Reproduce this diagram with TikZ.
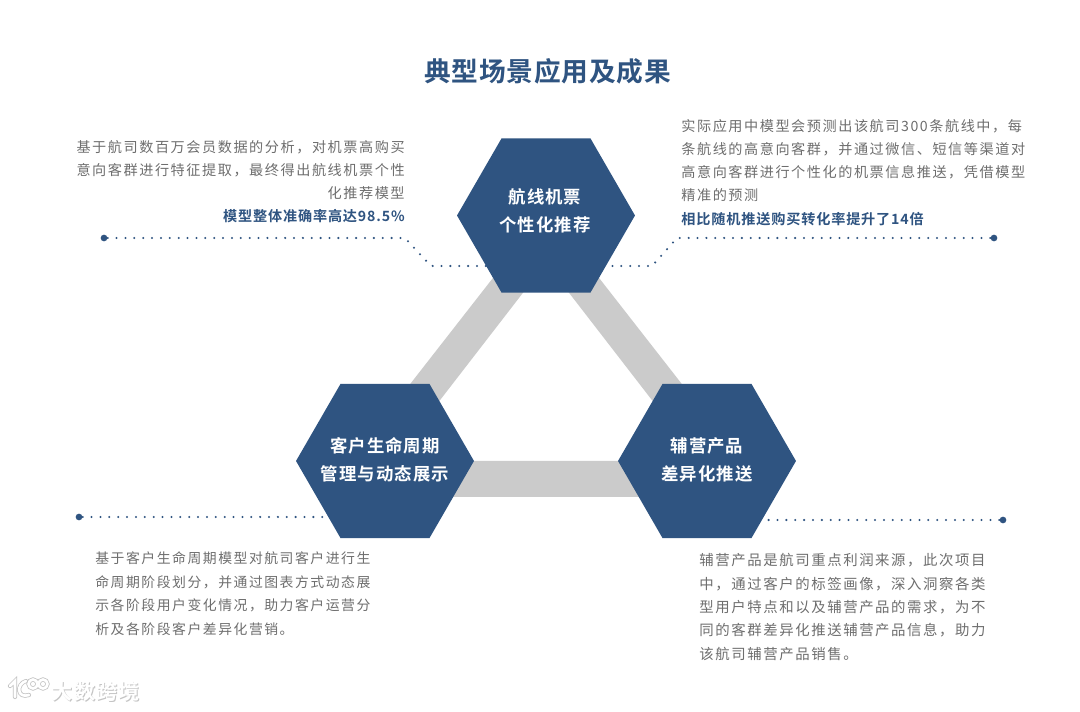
\documentclass[tikz,border=0pt]{standalone}
\usepackage{fontspec}
\usepackage{xcolor}
\usetikzlibrary{shapes.geometric, positioning}
\newfontfamily\cjkbody[LetterSpace=11]{Noto Sans CJK SC}
\newfontfamily\cjkbold[LetterSpace=6]{Noto Sans CJK SC Bold}
\newfontfamily\cjktitle[LetterSpace=3]{Noto Sans CJK SC Bold}
\definecolor{hexblue}{HTML}{2F5481}
\definecolor{bodygray}{HTML}{6E6E6E}
\definecolor{barGray}{HTML}{CBCBCB}
\definecolor{markgray}{HTML}{C4C4C4}
\tikzset{
    hexnode/.style={regular polygon, regular polygon sides=6, minimum size=3.56cm,
        inner sep=0pt, outer sep=0pt, fill=hexblue},
    hexlabel/.style={text=white, align=center, inner sep=0pt, font=\fontsize{9.9}{15.9}\selectfont\cjkbold},
    bodytop/.style={text=bodygray, inner sep=0pt, font=\fontsize{8.05}{13.2}\selectfont\cjkbody},
    bodyleft/.style={text=bodygray, inner sep=0pt, font=\fontsize{7.88}{13.35}\selectfont\cjkbody},
    bodyright/.style={text=bodygray, inner sep=0pt, font=\fontsize{8.2}{13.35}\selectfont\cjkbody},
    leadline/.style={hexblue, line width=1.3pt, line cap=round, dash pattern=on 0pt off 5.05pt},
    leaddot/.style={circle, fill=hexblue, inner sep=0pt, minimum size=3.8pt},
    markstroke/.style={white, line width=1.5pt, line cap=round},
    markshadow/.style={markgray, line width=2.4pt, line cap=round}
}
\begin{document}
\begin{tikzpicture}[x=0.02cm, y=-0.02cm]
        \useasboundingbox (0, 0) rectangle (1080, 712);
        \fill[white] (0, 0) rectangle (1080, 712);

        % ===== title =====
        \node[text=hexblue, inner sep=0pt, font=\fontsize{15.2}{18}\selectfont\cjktitle] (title) at (547.5, 71) {典型场景应用及成果};

        % ===== grey triangle behind the hexagons =====
        \fill[barGray, even odd rule] (546, 210) -- (770, 497) -- (322, 497) -- cycle
            (546, 263) -- (699, 461) -- (393, 461) -- cycle;

        % ===== hexagons =====
        \node[hexnode] (hexTop) at (546, 215.5) {};
        \node[hexnode] (hexLeft) at (385, 461) {};
        \node[hexnode] (hexRight) at (707, 461) {};
        \node[hexlabel] (labelTop) at (545, 211) {航线机票\\个性化推荐};
        \node[hexlabel] (labelLeft) at (385, 460) {客户生命周期\\管理与动态展示};
        \node[hexlabel] (labelRight) at (707, 460) {辅营产品\\差异化推送};

        % ===== text top left =====
        \node[bodytop, anchor=north east, align=right] (textTL) at (405, 140) {基于航司数百万会员数据的分析，对机票高购买\\意向客群进行特征提取，最终得出航线机票个性\\化推荐模型\\{\color{hexblue}\cjkbold 模型整体准确率高达98.5\%}};

        % ===== text top right =====
        \node[bodytop, anchor=north west, align=left] (textTR) at (681, 119) {实际应用中模型会预测出该航司300条航线中，每\\条航线的高意向客群，并通过微信、短信等渠道对\\高意向客群进行个性化的机票信息推送，凭借模型\\精准的预测\\{\color{hexblue}\cjkbold 相比随机推送购买转化率提升了14倍}};

        % ===== text bottom left =====
        \node[bodyleft, anchor=north west, align=left] (textBL) at (95, 551.5) {基于客户生命周期模型对航司客户进行生\\命周期阶段划分，并通过图表方式动态展\\示各阶段用户变化情况，助力客户运营分\\析及各阶段客户差异化营销。};

        % ===== text bottom right =====
        \node[bodyright, anchor=north west, align=left] (textBR) at (699, 553) {辅营产品是航司重点利润来源，此次项目\\中，通过客户的标签画像，深入洞察各类\\型用户特点和以及辅营产品的需求，为不\\同的客群差异化推送辅营产品信息，助力\\该航司辅营产品销售。};

        % ===== dotted leaders =====
        \node[leaddot] (dotTL) at (104, 238) {};
        \coordinate (bendTL) at (405, 238);
        \coordinate (kneeTL) at (431, 266);
        \coordinate (endTL) at (486, 266);
        \draw[leadline] (dotTL) -- (bendTL) -- (kneeTL) -- (endTL);

        \node[leaddot] (dotTR) at (994, 238) {};
        \coordinate (bendTR) at (677, 238);
        \coordinate (kneeTR) at (652, 266);
        \coordinate (endTR) at (606, 266);
        \draw[leadline] (dotTR) -- (bendTR) -- (kneeTR) -- (endTR);

        \node[leaddot] (dotBL) at (79, 517) {};
        \coordinate (endBL) at (326, 517);
        \draw[leadline] (dotBL) -- (endBL);

        \node[leaddot] (dotBR) at (1003, 520) {};
        \coordinate (endBR) at (768, 520);
        \draw[leadline] (dotBR) -- (endBR);

        % ===== watermark =====
        \node[text=markgray, anchor=west, inner sep=0pt, font=\fontsize{12}{14}\selectfont\cjkbold] (markBack) at (52.5, 692) {大数跨境};
        \node[text=white, anchor=west, inner sep=0pt, font=\fontsize{12}{14}\selectfont\cjkbold] (markFront) at (51.5, 691) {大数跨境};
        \draw[markshadow] (10, 686) -- (15, 681) -- (15, 697);
        \draw[markshadow] (26, 681) .. controls (16, 684) and (17, 699) .. (29, 695);
        \draw[markshadow] (33, 684) circle (4.5);
        \draw[markshadow] (43, 684) circle (4.5);
        \draw[markstroke] (10, 686) -- (15, 681) -- (15, 697);
        \draw[markstroke] (26, 681) .. controls (16, 684) and (17, 699) .. (29, 695);
        \draw[markstroke] (33, 684) circle (4.5);
        \draw[markstroke] (43, 684) circle (4.5);

\end{tikzpicture}
\end{document}
